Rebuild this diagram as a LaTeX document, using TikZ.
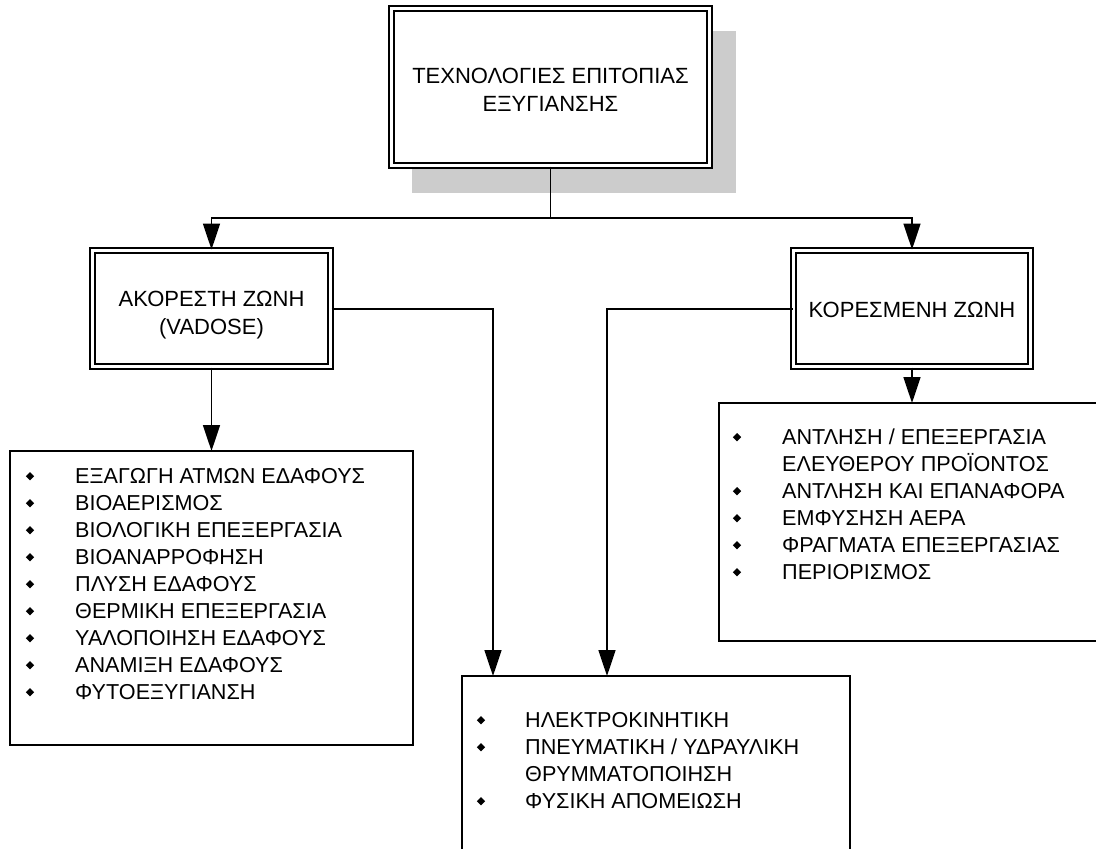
\documentclass[tikz,border=0pt]{standalone}
\usepackage{fontspec}
\setmainfont{Liberation Sans}
\usetikzlibrary{arrows.meta}
\begin{document}
\begin{tikzpicture}[x=1pt,y=-1pt,
  txt/.style={font=\fontsize{22}{28}\selectfont, align=center, inner sep=0pt},
  listtxt/.style={font=\fontsize{21.6}{27}\selectfont, align=left, anchor=north west, inner sep=0pt},
  dblbox/.style={draw, line width=2pt, double, double distance=3pt},
  plainbox/.style={draw, line width=1.8pt},
  conn/.style={line width=1.7pt},
  arr/.style={line width=1.7pt, -{Triangle[length=26pt,width=17pt]}},
  shade/.style={fill=black!20, draw=none}
]
\newcommand{\bulletmark}[2]{\fill (#1,#2) -- ++(4.2,4.2) -- ++(-4.2,4.2) -- ++(-4.2,-4.2) -- cycle;}
\useasboundingbox (0,0) rectangle (1096,849);
\begin{scope}
\clip (0,0) rectangle (1096,849);

% root box with drop shadow
\fill[shade] (412,31) rectangle (736,193);
\fill[white] (389,6) rectangle (712,168);
\node[dblbox, minimum width=318pt, minimum height=157pt] (root) at (550.5,87) {};
\node[txt] (roottxt) at (550.5,90) {ΤΕΧΝΟΛΟΓΙΕΣ ΕΠΙΤΟΠΙΑΣ\\ΕΞΥΓΙΑΝΣΗΣ};

% zone boxes
\node[dblbox, minimum width=238pt, minimum height=116pt] (vad) at (211.5,308.5) {};
\node[txt] (vadtxt) at (211.5,315) {ΑΚΟΡΕΣΤΗ ΖΩΝΗ\\(VADOSE)};
\node[dblbox, minimum width=237pt, minimum height=116pt] (sat) at (912,308.5) {};
\node[txt] (sattxt) at (912,310) {ΚΟΡΕΣΜΕΝΗ ΖΩΝΗ};

% list boxes
\draw[plainbox] (10,451) rectangle (413,745);
\coordinate (lvtop) at (211.5,451);
\draw[plainbox] (719,403) rectangle (1110,641);
\coordinate (lstop) at (912,403);
\draw[plainbox] (462,676) rectangle (850,870);
\coordinate (lbA) at (493,676);
\coordinate (lbB) at (607,676);

% split under the root
\coordinate (split) at (550.5,218);
\draw[conn] (root.south) -- (split);
\draw[arr] (split) -| (vad.north);
\draw[arr] (split) -| (sat.north);

% zone boxes down to their lists
\draw[arr] (vad.south) -- (lvtop);
\draw[arr] (sat.south) -- (lstop);
\draw[arr] (vad.east |- 0,309) -| (lbA);
\draw[arr] (sat.west |- 0,309) -| (lbB);

% list contents
\node[listtxt] (lvlist) at (75,468) {ΕΞΑΓΩΓΗ ΑΤΜΩΝ ΕΔΑΦΟΥΣ\\ΒΙΟΑΕΡΙΣΜΟΣ\\ΒΙΟΛΟΓΙΚΗ ΕΠΕΞΕΡΓΑΣΙΑ\\ΒΙΟΑΝΑΡΡΟΦΗΣΗ\\ΠΛΥΣΗ ΕΔΑΦΟΥΣ\\ΘΕΡΜΙΚΗ ΕΠΕΞΕΡΓΑΣΙΑ\\ΥΑΛΟΠΟΙΗΣΗ ΕΔΑΦΟΥΣ\\ΑΝΑΜΙΞΗ ΕΔΑΦΟΥΣ\\ΦΥΤΟΕΞΥΓΙΑΝΣΗ};
\foreach \i in {0,...,8} {\bulletmark{30}{472+27*\i}}

\node[listtxt] (lslist) at (782,429) {ΑΝΤΛΗΣΗ / ΕΠΕΞΕΡΓΑΣΙΑ\\ΕΛΕΥΘΕΡΟΥ ΠΡΟΪΟΝΤΟΣ\\ΑΝΤΛΗΣΗ ΚΑΙ ΕΠΑΝΑΦΟΡΑ\\ΕΜΦΥΣΗΣΗ ΑΕΡΑ\\ΦΡΑΓΜΑΤΑ ΕΠΕΞΕΡΓΑΣΙΑΣ\\ΠΕΡΙΟΡΙΣΜΟΣ};
\foreach \k in {0,2,3,4,5} {\bulletmark{737}{433+27*\k}}

\node[listtxt] (lblist) at (525,712) {ΗΛΕΚΤΡΟΚΙΝΗΤΙΚΗ\\ΠΝΕΥΜΑΤΙΚΗ / ΥΔΡΑΥΛΙΚΗ\\ΘΡΥΜΜΑΤΟΠΟΙΗΣΗ\\ΦΥΣΙΚΗ ΑΠΟΜΕΙΩΣΗ};
\foreach \k in {0,1,3} {\bulletmark{481}{716+27*\k}}
\end{scope}
\end{tikzpicture}
\end{document}
